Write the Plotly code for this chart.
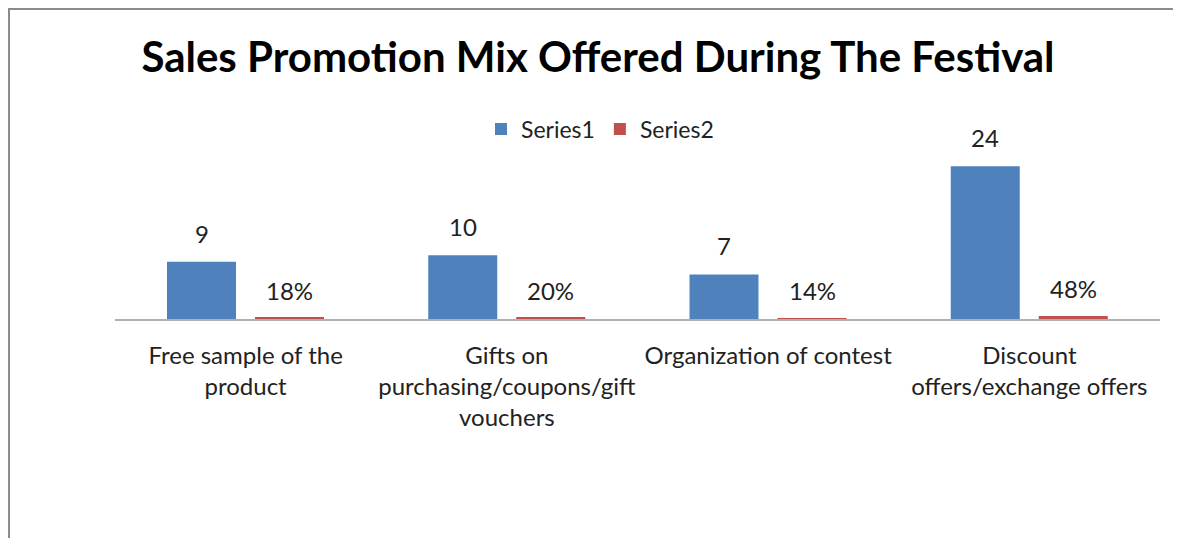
import plotly.graph_objects as go

categories = [
    "Free sample of the<br>product",
    "Gifts on<br>purchasing/coupons/gift<br>vouchers",
    "Organization of contest",
    "Discount<br>offers/exchange offers",
]
series1 = [9, 10, 7, 24]
series2 = [0.18, 0.20, 0.14, 0.48]
series1_labels = [str(v) for v in series1]
series2_labels = [f"{round(v*100)}%" for v in series2]

FONT = "Lato"
TXT = "#222222"
OFF = 8  # page body margin
W, H = 1181 + 20, 550 - 2 * OFF - 4
ML = 115 - OFF
MR = W + OFF - 1160
MT = 128 - OFF
MB = H - (319 - OFF)
plot_w = W - ML - MR
plot_h = H - MT - MB
cat_w = plot_w / len(categories)
bar_w = 69 / cat_w
center0 = ML + OFF + cat_w / 2
off1 = (167 - center0) / cat_w
off2 = (255 - center0) / cat_w


def px_to_paper_x(px):
    return (px - OFF - ML) / plot_w


def px_to_paper_y(py):
    return (H - MB - (py - OFF)) / plot_h


fig = go.Figure()
fig.add_trace(go.Bar(name="Series1", x=categories, y=series1,
                     marker=dict(color="#4F81BD", line=dict(width=0)),
                     width=bar_w, offset=off1))
fig.add_trace(go.Bar(name="Series2", x=categories, y=series2,
                     marker=dict(color="#C0504D", line=dict(width=0)),
                     width=bar_w, offset=off2))

annotations = []
for c, v, t in zip(categories, series1, series1_labels):
    annotations.append(dict(x=c, y=v, text=t, showarrow=False, xanchor="center",
                            yanchor="bottom", xshift=(off1 + bar_w / 2) * cat_w,
                            yshift=12, font=dict(family=FONT, size=24, color=TXT)))
for c, v, t in zip(categories, series2, series2_labels):
    annotations.append(dict(x=c, y=v, text=t, showarrow=False, xanchor="center",
                            yanchor="bottom", xshift=(off2 + bar_w / 2) * cat_w,
                            yshift=11, font=dict(family=FONT, size=24, color=TXT)))

border = "#8c8c8c"
shapes = [
    dict(type="line", xref="paper", yref="paper",
         x0=(0 - ML) / plot_w, x1=(W - ML) / plot_w,
         y0=(H - MB - 1) / plot_h, y1=(H - MB - 1) / plot_h,
         line=dict(color=border, width=2)),
    dict(type="line", xref="paper", yref="paper",
         x0=(1 - ML) / plot_w, x1=(1 - ML) / plot_w,
         y0=(H - MB) / plot_h, y1=-MB / plot_h,
         line=dict(color=border, width=2)),
]

fig.update_layout(
    width=W, height=H,
    margin=dict(l=ML, r=MR, t=MT, b=MB, autoexpand=False),
    paper_bgcolor="white", plot_bgcolor="white",
    barmode="overlay",
    title=dict(text="<b>Sales Promotion Mix Offered During The Festival</b>",
               x=(598 - OFF) / W, xanchor="center", y=1 - (57 - OFF) / H, yanchor="middle",
               font=dict(family=FONT, size=42, color="#000000")),
    legend=dict(orientation="h", x=px_to_paper_x(600), xanchor="center",
                y=px_to_paper_y(129), yanchor="middle",
                font=dict(family=FONT, size=23, color=TXT),
                itemwidth=30, traceorder="normal"),
    xaxis=dict(showline=True, linecolor="#b0b0b0", linewidth=2,
               ticks="outside", ticklen=14, tickcolor="rgba(0,0,0,0)",
               tickfont=dict(family=FONT, size=24, color=TXT),
               showgrid=False, zeroline=False),
    yaxis=dict(range=[0, 30], visible=False, showgrid=False, zeroline=False),
    annotations=annotations,
    shapes=shapes,
    showlegend=True,
)

fig.write_html("out.html")
